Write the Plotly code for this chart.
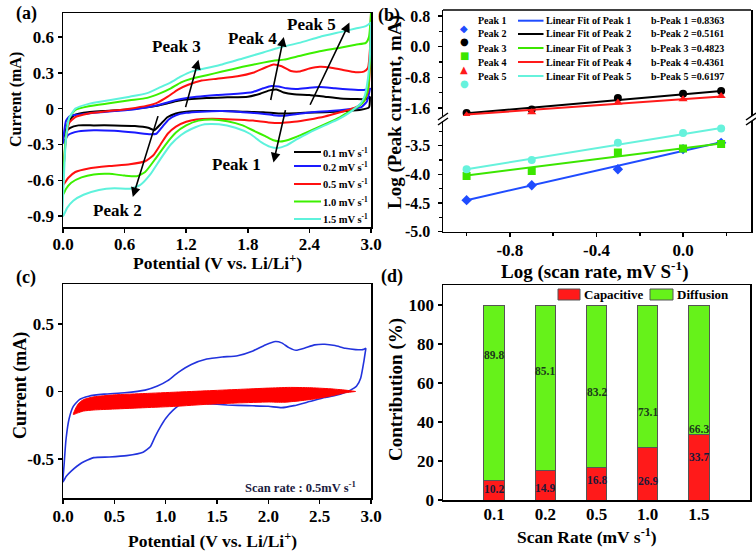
import plotly.graph_objects as go

W, H = 756, 551
SERIF = "Liberation Serif"


def px(x):
    return x / W


def py(y):
    return 1 - y / H


# ---------------- Panel (a): CV curves at several scan rates ----------------
rates_a = ["0.1", "0.2", "0.5", "1.0", "1.5"]
colors_a = ["#000000", "#1a1aff", "#ff1010", "#3cf000", "#5ef2dc"]

bk_up_v = [0.00, 0.02, 0.05, 0.10, 0.20, 0.40, 0.60, 0.80, 0.92, 1.02, 1.12, 1.25, 1.40, 1.60, 1.80, 1.92, 2.02, 2.08, 2.15, 2.25, 2.40, 2.55, 2.70, 2.85, 2.95, 2.99]
bk_up_i = [-0.25, -0.20, -0.12, -0.06, -0.035, -0.02, -0.01, 0.01, 0.025, 0.045, 0.065, 0.08, 0.09, 0.095, 0.10, 0.125, 0.155, 0.16, 0.135, 0.12, 0.115, 0.10, 0.085, 0.08, 0.08, 0.10]
bk_dn_v = [2.99, 2.98, 2.90, 2.75, 2.55, 2.35, 2.20, 2.10, 1.95, 1.75, 1.55, 1.35, 1.20, 1.10, 1.02, 0.95, 0.89, 0.83, 0.70, 0.50, 0.30, 0.15, 0.07, 0.02, 0.00]
bk_dn_i = [0.10, 0.01, -0.01, -0.02, -0.03, -0.035, -0.04, -0.04, -0.03, -0.025, -0.02, -0.02, -0.025, -0.04, -0.07, -0.13, -0.18, -0.16, -0.145, -0.14, -0.14, -0.14, -0.16, -0.20, -0.25]

bl_up_v = [0.00, 0.01, 0.03, 0.07, 0.15, 0.30, 0.50, 0.70, 0.85, 0.95, 1.05, 1.15, 1.30, 1.50, 1.70, 1.85, 1.95, 2.03, 2.10, 2.18, 2.28, 2.40, 2.50, 2.65, 2.80, 2.92, 2.99]
bl_up_i = [-0.29, -0.20, -0.10, -0.06, -0.05, -0.035, -0.02, -0.005, 0.015, 0.035, 0.06, 0.08, 0.10, 0.115, 0.125, 0.14, 0.17, 0.19, 0.185, 0.17, 0.165, 0.175, 0.18, 0.17, 0.16, 0.155, 0.165]
bl_dn_v = [2.99, 2.96, 2.90, 2.78, 2.60, 2.42, 2.28, 2.15, 2.05, 1.92, 1.75, 1.55, 1.35, 1.20, 1.10, 1.03, 0.97, 0.91, 0.85, 0.70, 0.50, 0.30, 0.15, 0.05, 0.00]
bl_dn_i = [0.165, 0.06, 0.01, -0.005, -0.02, -0.03, -0.045, -0.06, -0.055, -0.04, -0.03, -0.02, -0.025, -0.035, -0.055, -0.09, -0.15, -0.21, -0.215, -0.20, -0.185, -0.18, -0.19, -0.22, -0.29]

rd_up_v = [0.00, 0.01, 0.03, 0.06, 0.12, 0.25, 0.45, 0.65, 0.82, 0.92, 1.02, 1.12, 1.22, 1.35, 1.50, 1.70, 1.85, 1.96, 2.05, 2.13, 2.22, 2.30, 2.40, 2.50, 2.60, 2.72, 2.85, 2.93, 2.97, 2.99, 3.00]
rd_up_i = [-0.64, -0.45, -0.25, -0.12, -0.07, -0.04, -0.02, 0.0, 0.025, 0.05, 0.10, 0.16, 0.20, 0.235, 0.25, 0.27, 0.30, 0.34, 0.37, 0.355, 0.315, 0.31, 0.335, 0.35, 0.345, 0.325, 0.305, 0.31, 0.34, 0.50, 0.80]
rd_dn_v = [3.00, 2.99, 2.97, 2.93, 2.87, 2.80, 2.70, 2.55, 2.40, 2.25, 2.12, 2.00, 1.85, 1.65, 1.45, 1.30, 1.20, 1.10, 1.02, 0.95, 0.88, 0.80, 0.65, 0.45, 0.25, 0.12, 0.05, 0.00]
rd_dn_i = [0.80, 0.35, 0.14, 0.06, 0.02, -0.005, -0.03, -0.065, -0.09, -0.11, -0.12, -0.115, -0.10, -0.09, -0.085, -0.09, -0.11, -0.15, -0.21, -0.30, -0.39, -0.44, -0.465, -0.48, -0.50, -0.53, -0.58, -0.64]

gr_up_v = [0.00, 0.01, 0.03, 0.06, 0.12, 0.25, 0.45, 0.65, 0.82, 0.95, 1.05, 1.15, 1.25, 1.40, 1.55, 1.75, 1.95, 2.05, 2.15, 2.30, 2.50, 2.70, 2.85, 2.95, 2.98, 3.00]
gr_up_i = [-0.72, -0.45, -0.22, -0.08, -0.01, 0.02, 0.045, 0.07, 0.09, 0.13, 0.17, 0.22, 0.25, 0.28, 0.31, 0.35, 0.385, 0.40, 0.41, 0.44, 0.48, 0.51, 0.535, 0.55, 0.60, 0.80]
gr_dn_v = [3.00, 2.99, 2.97, 2.93, 2.87, 2.80, 2.70, 2.58, 2.45, 2.32, 2.20, 2.12, 2.05, 1.97, 1.87, 1.75, 1.60, 1.45, 1.32, 1.20, 1.10, 1.00, 0.90, 0.80, 0.72, 0.60, 0.45, 0.30, 0.18, 0.08, 0.03, 0.00]
gr_dn_i = [0.80, 0.40, 0.16, 0.06, 0.015, -0.02, -0.07, -0.12, -0.17, -0.22, -0.26, -0.275, -0.265, -0.23, -0.19, -0.14, -0.105, -0.09, -0.10, -0.14, -0.20, -0.30, -0.42, -0.53, -0.565, -0.56, -0.545, -0.55, -0.575, -0.62, -0.67, -0.72]

cy_up_v = [0.00, 0.01, 0.03, 0.06, 0.12, 0.25, 0.45, 0.65, 0.82, 0.95, 1.05, 1.15, 1.25, 1.40, 1.55, 1.75, 1.95, 2.10, 2.30, 2.50, 2.70, 2.85, 2.95, 3.00]
cy_up_i = [-0.90, -0.55, -0.25, -0.08, 0.0, 0.04, 0.07, 0.10, 0.13, 0.18, 0.22, 0.27, 0.31, 0.34, 0.37, 0.42, 0.47, 0.51, 0.55, 0.60, 0.64, 0.67, 0.69, 0.72]
cy_dn_v = [3.00, 2.99, 2.97, 2.94, 2.90, 2.84, 2.78, 2.68, 2.55, 2.40, 2.27, 2.17, 2.09, 2.02, 1.93, 1.82, 1.68, 1.52, 1.38, 1.25, 1.15, 1.05, 0.95, 0.85, 0.75, 0.65, 0.50, 0.35, 0.20, 0.10, 0.04, 0.00]
cy_dn_i = [0.72, 0.45, 0.25, 0.11, 0.045, 0.0, -0.04, -0.09, -0.14, -0.20, -0.26, -0.31, -0.33, -0.32, -0.28, -0.21, -0.16, -0.13, -0.13, -0.17, -0.22, -0.30, -0.42, -0.55, -0.64, -0.67, -0.665, -0.68, -0.72, -0.77, -0.83, -0.90]

# ---------------- Panel (b): log peak current vs log scan rate ----------------
log_rate = [-1.0, -0.699, -0.301, 0.0, 0.176]
peak_names = ["Peak 1", "Peak 2", "Peak 3", "Peak 4", "Peak 5"]
b_values = ["0.8363", "0.5161", "0.4823", "0.4361", "0.6197"]
peak1 = [-4.45, -4.19, -3.91, -3.56, -3.45]
peak2 = [-1.73, -1.64, -1.34, -1.23, -1.16]
peak3 = [-4.03, -3.94, -3.62, -3.55, -3.47]
peak4 = [-1.79, -1.71, -1.46, -1.37, -1.29]
peak5 = [-3.91, -3.75, -3.45, -3.28, -3.20]
fit_x = [-1.0, 0.176]
fit1 = [-4.45, -3.44]
fit2 = [-1.74, -1.16]
fit3 = [-4.02, -3.46]
fit4 = [-1.77, -1.30]
fit5 = [-3.91, -3.19]

# ---------------- Panel (c): CV at 0.5 mV/s with capacitive region ----------------
c_up_v = [0.00, 0.01, 0.03, 0.06, 0.10, 0.16, 0.25, 0.40, 0.60, 0.80, 0.92, 1.02, 1.12, 1.25, 1.40, 1.55, 1.70, 1.85, 1.97, 2.07, 2.13, 2.20, 2.27, 2.35, 2.45, 2.55, 2.65, 2.75, 2.85, 2.92, 2.95]
c_up_i = [-0.67, -0.55, -0.35, -0.20, -0.11, -0.06, -0.035, -0.02, -0.01, 0.01, 0.04, 0.08, 0.14, 0.20, 0.24, 0.255, 0.265, 0.30, 0.345, 0.37, 0.36, 0.325, 0.305, 0.32, 0.345, 0.35, 0.34, 0.32, 0.31, 0.31, 0.32]
c_dn_v = [2.95, 2.93, 2.90, 2.86, 2.80, 2.70, 2.55, 2.40, 2.25, 2.13, 2.00, 1.80, 1.60, 1.40, 1.25, 1.15, 1.07, 1.00, 0.95, 0.90, 0.85, 0.78, 0.62, 0.45, 0.30, 0.18, 0.08, 0.03, 0.00]
c_dn_i = [0.32, 0.22, 0.10, 0.04, 0.01, -0.02, -0.045, -0.075, -0.105, -0.12, -0.11, -0.105, -0.10, -0.09, -0.085, -0.095, -0.14, -0.20, -0.26, -0.33, -0.41, -0.45, -0.475, -0.485, -0.49, -0.53, -0.59, -0.63, -0.67]
cap_up_v = [0.10, 0.12, 0.15, 0.20, 0.30, 0.50, 0.80, 1.10, 1.40, 1.70, 2.00, 2.20, 2.40, 2.60, 2.75, 2.85]
cap_up_i = [-0.17, -0.13, -0.09, -0.06, -0.04, -0.025, -0.015, -0.005, 0.005, 0.015, 0.025, 0.03, 0.028, 0.02, 0.01, 0.0]
cap_dn_v = [2.85, 2.75, 2.60, 2.45, 2.30, 2.15, 2.00, 1.70, 1.40, 1.10, 0.80, 0.50, 0.30, 0.20, 0.14, 0.10]
cap_dn_i = [0.0, -0.01, -0.035, -0.055, -0.07, -0.08, -0.078, -0.085, -0.095, -0.11, -0.12, -0.13, -0.137, -0.145, -0.16, -0.17]

# ---------------- Panel (d): contribution bars ----------------
rates_d = ["0.1", "0.2", "0.5", "1.0", "1.5"]
capacitive = [10.2, 14.9, 16.8, 26.9, 33.7]
diffusion = [89.8, 85.1, 83.2, 73.1, 66.3]

fig = go.Figure()

# panel (a)
cv_sets = [
    (bk_up_v + bk_dn_v, bk_up_i + bk_dn_i),
    (bl_up_v + bl_dn_v, bl_up_i + bl_dn_i),
    (rd_up_v + rd_dn_v, rd_up_i + rd_dn_i),
    (gr_up_v + gr_dn_v, gr_up_i + gr_dn_i),
    (cy_up_v + cy_dn_v, cy_up_i + cy_dn_i),
]
for (v, i), col, r in zip(cv_sets, colors_a, rates_a):
    fig.add_trace(go.Scatter(x=v, y=i, mode="lines", line=dict(color=col, width=2, shape="spline", smoothing=0.5),
                             name=r, showlegend=False, xaxis="x", yaxis="y"))

# panel (b)
b_colors = ["#1f4cff", "#000000", "#3ce600", "#ff1a1a", "#66f2dc"]
b_symbols = ["diamond", "circle", "square", "triangle-up", "circle"]
peaks = [peak1, peak2, peak3, peak4, peak5]
fits = [fit1, fit2, fit3, fit4, fit5]
top_seg = [False, True, False, True, False]
for k in range(5):
    ya = "y3" if top_seg[k] else "y2"
    fig.add_trace(go.Scatter(x=fit_x, y=fits[k], mode="lines", line=dict(color=b_colors[k], width=2),
                             showlegend=False, xaxis="x2", yaxis=ya))
    fig.add_trace(go.Scatter(x=log_rate, y=peaks[k], mode="markers",
                             marker=dict(color=b_colors[k], symbol=b_symbols[k], size=8),
                             showlegend=False, xaxis="x2", yaxis=ya))

# panel (c)
fig.add_trace(go.Scatter(x=c_up_v + c_dn_v, y=c_up_i + c_dn_i, mode="lines",
                         line=dict(color="#2233dd", width=1.6, shape="spline", smoothing=0.5),
                         showlegend=False, xaxis="x3", yaxis="y4"))
fig.add_trace(go.Scatter(x=cap_up_v + cap_dn_v, y=cap_up_i + cap_dn_i, mode="lines", fill="toself",
                         fillcolor="#ff0000", line=dict(color="#ff0000", width=1, shape="spline", smoothing=0.5),
                         showlegend=False, xaxis="x3", yaxis="y4"))

# panel (d)
xd = list(range(len(rates_d)))
fig.add_trace(go.Bar(x=xd, y=capacitive, width=0.4, marker=dict(color="#ff1a1a", line=dict(color="#555555", width=1)),
                     showlegend=False, xaxis="x4", yaxis="y5"))
fig.add_trace(go.Bar(x=xd, y=diffusion, width=0.4, marker=dict(color="#66f21a", line=dict(color="#555555", width=1)),
                     showlegend=False, xaxis="x4", yaxis="y5"))


def tf(size):
    return dict(family=SERIF, size=size, weight="bold", color="black")


def ax(**kw):
    d = dict(showline=True, linecolor="black", linewidth=1.5, mirror=True, ticks="outside", ticklen=4,
             tickwidth=1.5, tickcolor="black", showgrid=False, zeroline=False, tickfont=tf(17),
             automargin=False)
    d.update(kw)
    return d


minor_kw = dict(ticklen=3, ticks="outside", tickcolor="black", tickwidth=1.5)

fig.update_layout(
    width=W, height=H, margin=dict(l=0, r=0, t=0, b=0, autoexpand=False), plot_bgcolor="white",
    paper_bgcolor="white", barmode="stack", showlegend=False, hovermode=False,
    xaxis=ax(domain=[px(63), px(371)], anchor="y", range=[0, 3.0], ticklabelstandoff=-3,
             tickvals=[0, 0.6, 1.2, 1.8, 2.4, 3.0], ticktext=["0.0", "0.6", "1.2", "1.8", "2.4", "3.0"]),
    yaxis=ax(domain=[py(227), py(13)], anchor="x", range=[-0.99, 0.80],
             tickvals=[0.6, 0.3, 0, -0.3, -0.6, -0.9], ticktext=["0.6", "0.3", "0", "-0.3", "-0.6", "-0.9"]),
    xaxis2=ax(domain=[px(443), px(751)], anchor="y2", range=[-1.109, 0.314], mirror=False, ticklabelstandoff=-2,
              tickvals=[-0.8, -0.4, 0.0], ticktext=["-0.8", "-0.4", "0.0"],
              minor=dict(tickvals=[-1.0, -0.6, -0.2, 0.2], **minor_kw)),
    yaxis2=ax(domain=[py(231.7), py(121)], anchor="x2", range=[-5.0, -3.069], ticklabelstandoff=4, tickfont=tf(16),
              tickvals=[-3.5, -4.0, -4.5, -5.0], ticktext=["-3.5", "-4.0", "-4.5", "-5.0"],
              minor=dict(tickvals=[-3.25, -3.75, -4.25, -4.75], **minor_kw)),
    yaxis3=ax(domain=[py(116), py(10)], anchor="x2", range=[-1.81, 0.956], ticklabelstandoff=4, tickfont=tf(16),
              tickvals=[0.8, 0.0, -0.8, -1.6], ticktext=["0.8", "0.0", "-0.8", "-1.6"],
              minor=dict(tickvals=[0.4, -0.4, -1.2], **minor_kw)),
    xaxis3=ax(domain=[px(63), px(371)], anchor="y4", range=[0, 3.0], ticklabelstandoff=-2,
              tickvals=[0, 0.5, 1.0, 1.5, 2.0, 2.5, 3.0], ticktext=["0.0", "0.5", "1.0", "1.5", "2.0", "2.5", "3.0"]),
    yaxis4=ax(domain=[py(498), py(284)], anchor="x3", range=[-0.789, 0.796],
              tickvals=[0.5, 0, -0.5], ticktext=["0.5", "0", "-0.5"]),
    xaxis4=ax(domain=[px(443), px(750)], anchor="y5", range=[-1, 5], ticks="", ticklabelstandoff=-2,
              tickvals=xd, ticktext=rates_d),
    yaxis5=ax(domain=[py(500), py(285)], anchor="x4", range=[0, 110.3],
              tickvals=[0, 20, 40, 60, 80, 100], ticktext=["0", "20", "40", "60", "80", "100"]),
)

shapes = []
annotations = []


def label(x, y, text, size=16, xanchor="center", yanchor="middle", angle=0, color="black", xref="paper", yref="paper"):
    if xref == "paper":
        x = px(x)
    if yref == "paper":
        y = py(y)
    annotations.append(dict(x=x, y=y, xref=xref, yref=yref, text=text, showarrow=False, xanchor=xanchor,
                            yanchor=yanchor, textangle=angle,
                            font=dict(family=SERIF, size=size, weight="bold", color=color)))


# panel labels
label(26, 13, "(a)", 18)
label(389, 15, "(b)", 18)
label(26, 277, "(c)", 18)
label(392, 276, "(d)", 18)

# axis titles
label(217, 262, "Potential (V vs. Li/Li<sup>+</sup>)", 17.5)
label(16, 100, "Current (mA)", 16, angle=-90)
label(595, 270, "Log (scan rate, mV S<sup>-1</sup>)", 19)
label(395, 112, "Log (Peak current, mA)", 19, angle=-90)
label(212, 540, "Potential (V vs. Li/Li<sup>+</sup>)", 17.5)
label(20, 386, "Current (mA)", 18, angle=-90)
label(587, 536, "Scan Rate (mV s<sup>-1</sup>)", 17.5)
label(396, 390, "Contribution (%)", 19, angle=-90)

# panel (a) peak arrows and labels
arrows_a = [
    ((1.19, 0.0), (1.32, 0.41)),
    ((0.93, -0.05), (0.68, -0.74)),
    ((2.02, 0.06), (2.15, 0.60)),
    ((2.40, 0.02), (2.79, 0.72)),
    ((2.17, 0.0), (2.05, -0.45)),
]
for (tx, ty), (hx, hy) in arrows_a:
    annotations.append(dict(x=hx, y=hy, ax=tx, ay=ty, xref="x", yref="y", axref="x", ayref="y", text="",
                            showarrow=True, arrowhead=2, arrowsize=1.2, arrowwidth=1.6, arrowcolor="black"))
for (tx, ty), t in zip([(1.11, 0.52), (0.53, -0.85), (1.85, 0.59), (2.42, 0.70), (1.69, -0.47)],
                       ["Peak 3", "Peak 2", "Peak 4", "Peak 5", "Peak 1"]):
    label(tx, ty, t, 17, xref="x", yref="y")

# panel (a) legend
rows_a = [152, 166, 184, 201.5, 219]
for r, col, rt in zip(rows_a, colors_a, rates_a):
    shapes.append(dict(type="line", xref="paper", yref="paper", x0=px(294), x1=px(321), y0=py(r), y1=py(r),
                       line=dict(color=col, width=2)))
    label(321, r, rt + " mV s<sup>-1</sup>", 10.5, xanchor="left")

# panel (b) legend
rows_b = [20.7, 34, 48, 62, 76]
glyphs = ["\u25c6", "\u25cf", "\u25a0", "\u25b2", "\u25cf"]
for k in range(5):
    r = rows_b[k]
    annotations.append(dict(x=px(464), y=py(r), xref="paper", yref="paper", text=glyphs[k], showarrow=False,
                            font=dict(family="DejaVu Sans", size=10, color=b_colors[k])))
    label(476, r, peak_names[k], 10, xanchor="left")
    shapes.append(dict(type="line", xref="paper", yref="paper", x0=px(518), x1=px(543.5), y0=py(r), y1=py(r),
                       line=dict(color=b_colors[k], width=2)))
    label(543.5, r, "Linear Fit of " + peak_names[k], 10, xanchor="left")
    label(649, r, "b-" + peak_names[k] + " =" + b_values[k], 10, xanchor="left")

# panel (b) top border and break marks
shapes.append(dict(type="line", xref="paper", yref="paper", x0=px(443), x1=px(751), y0=py(10), y1=py(10),
                   line=dict(color="black", width=1.5)))
for xb in [443, 751]:
    for dy in [0, 5]:
        shapes.append(dict(type="line", xref="paper", yref="paper", x0=px(xb - 5), x1=px(xb + 5),
                           y0=py(120 + dy), y1=py(113 + dy), line=dict(color="black", width=1.5)))

# panel (c) note
label(358, 487, "Scan rate : 0.5mV s<sup>-1</sup>", 12.5, xanchor="right", color="#1b1b40")

# panel (d) bar value labels
cap_label_y = [5.6, 6.0, 10.3, 9.9, 21.9]
dif_label_y = [74.4, 66.2, 55.2, 45.3, 36.2]
for k in range(5):
    annotations.append(dict(x=xd[k], y=cap_label_y[k], xref="x4", yref="y5", text=f"{capacitive[k]:.1f}",
                            showarrow=False, font=dict(family=SERIF, size=11.5, weight="bold", color="#1a1a3a")))
    annotations.append(dict(x=xd[k], y=dif_label_y[k], xref="x4", yref="y5", text=f"{diffusion[k]:.1f}",
                            showarrow=False, font=dict(family=SERIF, size=11.5, weight="bold", color="#1a3a1a")))

# panel (d) legend
shapes.append(dict(type="rect", xref="paper", yref="paper", x0=px(558), x1=px(580), y0=py(300), y1=py(289),
                   fillcolor="#ff1a1a", line=dict(color="#555555", width=1)))
label(582, 294.5, "Capacitive", 13, xanchor="left")
shapes.append(dict(type="rect", xref="paper", yref="paper", x0=px(650), x1=px(673), y0=py(300), y1=py(289),
                   fillcolor="#66f21a", line=dict(color="#555555", width=1)))
label(675, 294.5, "Diffusion", 13, xanchor="left")

fig.update_layout(shapes=shapes, annotations=annotations)
fig.write_html("out.html", config={"displayModeBar": False, "staticPlot": True},
               post_script="document.body.style.margin='0px';")
